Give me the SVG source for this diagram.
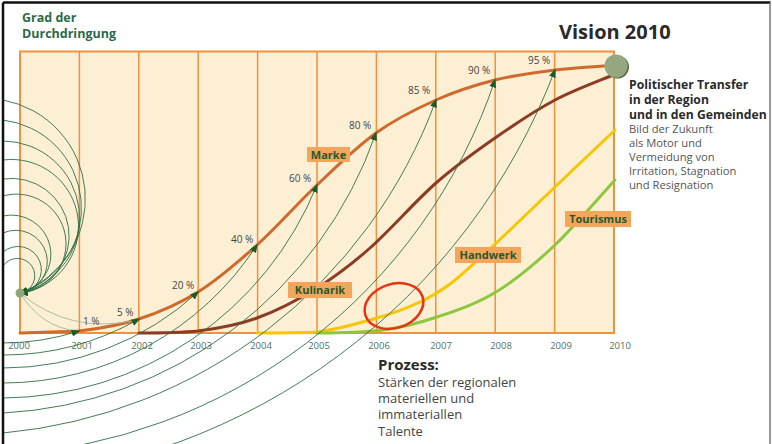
<svg xmlns="http://www.w3.org/2000/svg" width="772" height="444" viewBox="0 0 772 444">
<style>
.grid{stroke:#F0913C;stroke-width:1.5;fill:none}
.yr{font-family:"Open Sans","Liberation Sans",sans-serif;font-size:9.5px;fill:#4F7361;text-anchor:middle}
.pct{font-family:"Open Sans","Liberation Sans",sans-serif;font-size:10px;fill:#444}
.thin{fill:none;stroke:#2F6E45;stroke-width:0.9}
.light{fill:none;stroke:#9DB8A2;stroke-width:0.9}
.curve{fill:none;stroke-width:3;stroke-linecap:round}
.lbox{fill:#F5A45C}
.ltxt{font-family:"Open Sans","Liberation Sans",sans-serif;font-size:11px;font-weight:bold;fill:#1F5B2E;text-anchor:middle}
.h{font-family:"Open Sans","Liberation Sans",sans-serif;font-weight:bold}
.p{font-family:"Open Sans","Liberation Sans",sans-serif}
</style>
<defs>
<marker id="ah" markerUnits="userSpaceOnUse" markerWidth="9" markerHeight="7" refX="7.5" refY="3.5" orient="auto">
<path d="M0,0 L9,3.5 L0,7 z" fill="#1D5A2C"/>
</marker>
</defs>
<rect width="772" height="444" fill="#fff"/>
<g id="chart">
<rect x="20" y="51.5" width="594" height="281.5" fill="#FDEFD4" stroke="#F0913C" stroke-width="2"/>
<path class="grid" d="M79.4,51.5V333M138.8,51.5V333M198.2,51.5V333M257.6,51.5V333M317,51.5V333M376.4,51.5V333M435.8,51.5V333M495.2,51.5V333M554.6,51.5V333"/>
</g>
<g id="years">
<text class="yr" x="19" y="349">2000</text>
<text class="yr" x="82" y="349">2001</text>
<text class="yr" x="142" y="349">2002</text>
<text class="yr" x="201" y="349">2003</text>
<text class="yr" x="261" y="349">2004</text>
<text class="yr" x="319" y="349">2005</text>
<text class="yr" x="379" y="349">2006</text>
<text class="yr" x="441" y="349">2007</text>
<text class="yr" x="501" y="349">2008</text>
<text class="yr" x="561" y="349">2009</text>
<text class="yr" x="620" y="349">2010</text>
</g>
<g id="curves">
<path id="kulinarik-curve" class="curve" stroke="#8E3B24" d="M139,333 C149,333 178,333 198,331 C217.7,328.5 237.2,325.2 257,318 C276.8,310.8 298.2,299.7 317,288 C335.8,276.3 350.2,265.5 370,248 C389.8,230.5 415.2,201.3 436,183 C456.8,164.7 475.2,151.8 495,138 C514.8,124.2 535.3,110.5 555,100 C574.7,89.5 603.3,79.2 613,75"/>
<path id="handwerk-curve" class="curve" stroke="#F7C600" d="M257,333 C267,333 297,333 317,332 C337,329.5 359.8,323 377,318 C394.2,313 407.8,307.7 420,302 C432.2,296.3 440,291.3 450,284 C460,276.7 470,267 480,258 C490,249 497.2,242.2 510,230 C522.8,217.8 539.5,201.7 557,185 C574.5,168.3 605.3,139.2 615,130"/>
<path id="tourismus-curve" class="curve" stroke="#8DC63F" d="M317,333 C328,333 363,332.7 383,330 C403,327.3 418.2,323.3 437,317 C455.8,310.7 476.3,304 496,292 C515.7,280 535.2,263.7 555,245 C574.8,226.3 605,190.8 615,180"/>
<path id="marke-curve" class="curve" stroke="#CF6A2C" d="M20,333 C29.8,332.7 59.2,332 79,331 C98.8,328.7 119.2,325.5 139,319 C158.8,312.5 178.3,304.3 198,292 C217.7,279.7 237.2,262.8 257,245 C276.8,227.2 297.2,203.7 317,185 C336.8,166.3 356.2,147.2 376,133 C395.8,118.8 416.2,108.8 436,100 C455.8,91.2 475.2,85 495,80 C514.8,75 536.8,72.3 555,70 C573.2,67.7 595.8,66.7 604,66"/>
</g>
<g id="connectors">
<path class="light" d="M20,293 Q42,328 78,331"/>
<path class="light" d="M20,293 Q70,335 137,320"/>
<path class="thin" marker-end="url(#ah)" d="M3,100 A100.5,100.5 0 0 1 20,293"/>
<path class="thin" marker-end="url(#ah)" d="M3,120 A89,89 0 0 1 20,293"/>
<path class="thin" marker-end="url(#ah)" d="M3,141 A77,77 0 0 1 20,293"/>
<path class="thin" marker-end="url(#ah)" d="M3,160 A67,67 0 0 1 20,293"/>
<path class="thin" marker-end="url(#ah)" d="M3,179 A57.5,57.5 0 0 1 20,293"/>
<path class="thin" marker-end="url(#ah)" d="M3,196 A49.5,49.5 0 1 1 20,293"/>
<path class="thin" marker-end="url(#ah)" d="M3,216 A39.4,39.4 0 1 1 20,293"/>
<path class="thin" marker-end="url(#ah)" d="M3,233 A31.5,31.5 0 1 1 20,293"/>
<path class="thin" marker-end="url(#ah)" d="M3,252 A23.3,23.3 0 1 1 20,293"/>
<path class="thin" marker-end="url(#ah)" d="M3,266 A17.4,17.4 0 1 1 20,293"/>
<path class="thin" marker-end="url(#ah)" d="M3,343 A246.7,246.7 0 0 0 79,331"/>
<path class="thin" marker-end="url(#ah)" d="M3,355 A274.9,274.9 0 0 0 139,319"/>
<path class="thin" marker-end="url(#ah)" d="M3,368 A288.2,288.2 0 0 0 198,292"/>
<path class="thin" marker-end="url(#ah)" d="M3,383 A302.8,302.8 0 0 0 257,245"/>
<path class="thin" marker-end="url(#ah)" d="M3,398 A341.4,341.4 0 0 0 317,185"/>
<path class="thin" marker-end="url(#ah)" d="M3,413 A417.4,417.4 0 0 0 376,133"/>
<path class="thin" marker-end="url(#ah)" d="M3,433 A510.2,510.2 0 0 0 436,100"/>
<path class="thin" marker-end="url(#ah)" d="M3,455 A551.4,551.4 0 0 0 495,80"/>
<path class="thin" marker-end="url(#ah)" d="M3,480 A639.6,639.6 0 0 0 555,70"/>
</g>
<g id="percent-labels">
<text class="pct" x="83" y="325">1 %</text>
<text class="pct" x="117" y="316">5 %</text>
<text class="pct" x="172" y="289">20 %</text>
<text class="pct" x="231" y="243">40 %</text>
<text class="pct" x="289" y="182">60 %</text>
<text class="pct" x="349" y="129">80 %</text>
<text class="pct" x="408" y="94">85 %</text>
<text class="pct" x="468" y="74">90 %</text>
<text class="pct" x="528" y="64">95 %</text>
</g>
<g id="node-start"><circle cx="20" cy="293" r="4.5" fill="#8FA67A"/></g>
<g id="node-vision">
<circle cx="617.5" cy="67" r="11.5" fill="#5E6B4E"/>
<circle cx="616" cy="66" r="11.5" fill="#94A77E"/>
</g>
<g id="label-marke"><rect class="lbox" x="307" y="147" width="43" height="15"/><text class="ltxt" x="328.5" y="158.5">Marke</text></g>
<g id="label-kulinarik"><rect class="lbox" x="288" y="282" width="64" height="16"/><text class="ltxt" x="320" y="294">Kulinarik</text></g>
<g id="label-handwerk"><rect class="lbox" x="455" y="247" width="66" height="16"/><text class="ltxt" x="488" y="259">Handwerk</text></g>
<g id="label-tourismus"><rect class="lbox" x="565" y="211" width="66" height="16"/><text class="ltxt" x="598" y="223">Tourismus</text></g>
<g id="highlight"><ellipse cx="394" cy="306" rx="30" ry="22" transform="rotate(-18 394 306)" fill="none" stroke="#E63312" stroke-width="2.5"/></g>
<g id="title">
<text class="h" x="22" y="22" font-size="12.5" fill="#2B6A48">Grad der</text>
<text class="h" x="22" y="37.5" font-size="12.5" fill="#2B6A48">Durchdringung</text>
</g>
<g id="vision-title"><text class="h" x="559" y="39" font-size="20" fill="#2A2A2A">Vision 2010</text></g>
<g id="vision-text">
<text class="h" font-size="12.2" fill="#2A2A2A"><tspan x="629" y="89">Politischer Transfer</tspan><tspan x="629" y="104">in der Region</tspan><tspan x="629" y="119">und in den Gemeinden</tspan></text>
<text class="p" font-size="11.2" fill="#555"><tspan x="629" y="133">Bild der Zukunft</tspan><tspan x="629" y="147">als Motor und</tspan><tspan x="629" y="161">Vermeidung von</tspan><tspan x="629" y="175">Irritation, Stagnation</tspan><tspan x="629" y="189">und Resignation</tspan></text>
</g>
<g id="process-text">
<text class="h" x="378" y="370" font-size="15" fill="#2A2A2A">Prozess:</text>
<text class="p" font-size="13" fill="#444"><tspan x="378" y="387">Stärken der regionalen</tspan><tspan x="378" y="403">materiellen und</tspan><tspan x="378" y="419">immateriallen</tspan><tspan x="378" y="436">Talente</tspan></text>
</g>
<g id="frame">
<rect x="0" y="0" width="3" height="444" fill="#fff"/>
<path d="M3,2.5H770.5M3,2.5V444" stroke="#111" stroke-width="2.5" fill="none"/>
<path d="M770,2.5V444" stroke="#777" stroke-width="1.5" fill="none"/>
</g>
</svg>
